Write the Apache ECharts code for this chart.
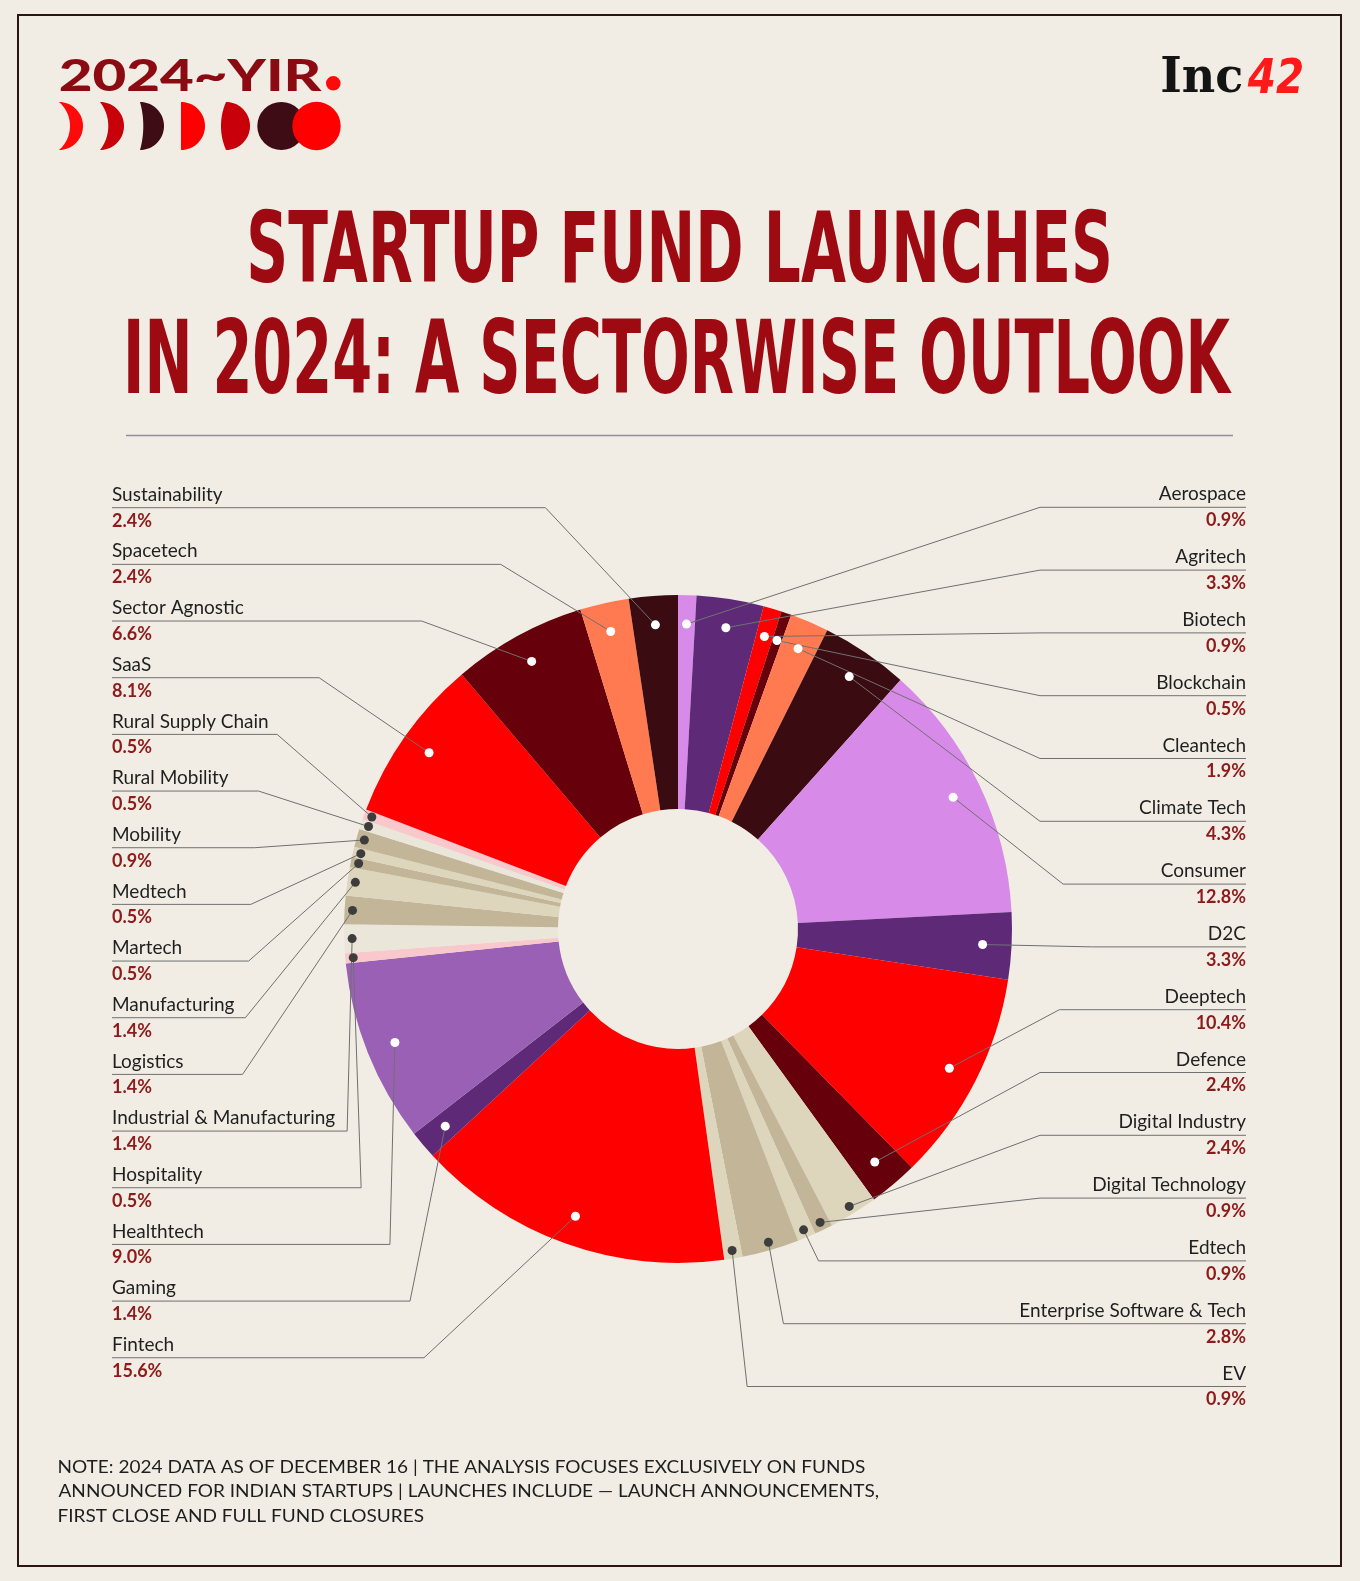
<!DOCTYPE html>
<html>
<head>
<meta charset="utf-8">
<script src="https://cdn.jsdelivr.net/npm/echarts/dist/echarts.min.js"></script>
<style>
html,body{margin:0;padding:0;background:#F1EDE4;}
#chart{width:1360px;height:1581px;}
</style>
</head>
<body>
<div id="chart"></div>
<script>
// ---------------- DATA ----------------
const categories = ['Aerospace','Agritech','Biotech','Blockchain','Cleantech','Climate Tech','Consumer','D2C','Deeptech','Defence','Digital Industry','Digital Technology','Edtech','Enterprise Software & Tech','EV','Fintech','Gaming','Healthtech','Hospitality','Industrial & Manufacturing','Logistics','Manufacturing','Martech','Medtech','Mobility','Rural Mobility','Rural Supply Chain','SaaS','Sector Agnostic','Spacetech','Sustainability'];
const shares = [0.9,3.3,0.9,0.5,1.9,4.3,12.8,3.3,10.4,2.4,2.4,0.9,0.9,2.8,0.9,15.6,1.4,9.0,0.5,1.4,1.4,1.4,0.5,0.5,0.9,0.5,0.5,8.1,6.6,2.4,2.4];
const titleLines = ['STARTUP FUND LAUNCHES','IN 2024: A SECTORWISE OUTLOOK'];
const noteLines = ['NOTE: 2024 DATA AS OF DECEMBER 16 | THE ANALYSIS FOCUSES EXCLUSIVELY ON FUNDS','ANNOUNCED FOR INDIAN STARTUPS | LAUNCHES INCLUDE \u2014 LAUNCH ANNOUNCEMENTS,','FIRST CLOSE AND FULL FUND CLOSURES'];

// ---------------- STYLE ----------------
const PAL = {
  violet:'#D78AE8', purple:'#5E2A78', red:'#FE0000', maroon:'#66000A', orange:'#FF7A50',
  darkest:'#3A0B10', mauve:'#9A60B5', pink:'#F8C8CC', beige:'#DDD6BC', tan:'#C2B598', offwhite:'#EBE6DA'
};
const sliceTones = ['violet','purple','red','maroon','orange','darkest','violet','purple','red','maroon','beige','tan','beige','tan','beige','red','purple','mauve','pink','offwhite','tan','beige','tan','beige','tan','offwhite','pink','red','maroon','orange','darkest'];
const LIGHT = {pink:1, beige:1, tan:1, offwhite:1};
const BG = '#F1EDE4';
const CX = 678, CY = 929, R_IN = 120, R_OUT = 334;
const LEFT_X = 112, RIGHT_X = 1246;
const LEFT_TOP = 507.7, LEFT_STEP = 56.67, RIGHT_TOP = 507.3, RIGHT_STEP = 62.8;
const NAME_FONT_FAMILY = 'Lato, "Noto Sans", sans-serif';
const LINE_COLOR = '#707070';

// ---------------- MEASURE HELPERS ----------------
const mctx = document.createElement('canvas').getContext('2d');
function measure(text, font, align) {
  mctx.font = font; mctx.textBaseline = 'middle'; mctx.textAlign = align || 'left';
  const m = mctx.measureText(text);
  return {w: m.actualBoundingBoxLeft + m.actualBoundingBoxRight, left: m.actualBoundingBoxLeft,
          right: m.actualBoundingBoxRight, asc: m.actualBoundingBoxAscent, desc: m.actualBoundingBoxDescent};
}
function fitText(text, o) {
  const align = o.align || 'left';
  const m = measure(text, o.font, align);
  const sx = o.inkW ? o.inkW / m.w : (o.sx || 1);
  const sy = o.capH ? o.capH / (m.asc + m.desc) : (o.sy || 1);
  let x;
  if (align === 'center') x = o.x - sx * (m.right - m.left) / 2;
  else x = o.x + sx * m.left;
  const y = o.capCY - sy * (m.desc - m.asc) / 2;
  return {
    type: 'text', x: x, y: y, scaleX: sx, scaleY: sy, originX: 0, originY: 0, silent: true, z: 10,
    style: {text: text, font: o.font, fill: o.fill, align: align, verticalAlign: 'middle',
            textAlign: align, textVerticalAlign: 'middle', stroke: o.stroke || null, lineWidth: o.lineWidth || 0}
  };
}
function moon(xT, R2, dir, fill) {
  const pts = [], cy = 126, r = 24, n = 40;
  for (let k = 0; k <= n; k++) { const a = -Math.PI / 2 + Math.PI * k / n; pts.push([xT + r * Math.cos(a), cy + r * Math.sin(a)]); }
  if (dir !== 0) {
    const phi = Math.asin(r / R2), c2 = xT - dir * Math.sqrt(R2 * R2 - r * r);
    for (let k = 0; k <= n; k++) {
      const b = dir > 0 ? phi - 2 * phi * k / n : Math.PI - phi + 2 * phi * k / n;
      pts.push([c2 + R2 * Math.cos(b), cy + R2 * Math.sin(b)]);
    }
  }
  return {type: 'polygon', silent: true, shape: {points: pts}, style: {fill: fill}};
}

const NAME_FS = Math.round(19 * 225 / measure('Industrial & Manufacturing', '19px ' + NAME_FONT_FAMILY).w * 2) / 2;
const NAME_FONT = NAME_FS + 'px ' + NAME_FONT_FAMILY;

// ---------------- GEOMETRY FROM DATA ----------------
const total = shares.reduce((a, b) => a + b, 0);
let acc = 0;
const mids = shares.map(v => { const m = acc + v / 2; acc += v; return m; });
const dotR = sliceTones.map(t => LIGHT[t] ? 326 : 305);
const dotColor = sliceTones.map(t => LIGHT[t] ? '#3d3d3d' : '#ffffff');
const dots = mids.map((m, i) => {
  const th = m / total * Math.PI * 2;
  return {x: CX + dotR[i] * Math.sin(th), y: CY - dotR[i] * Math.cos(th)};
});
const isRight = mids.map(m => m / total < 0.5);
const rightIdx = [], leftIdx = [];
categories.forEach((c, i) => { if (isRight[i]) rightIdx.push(i); else leftIdx.unshift(i); });
const nameW = categories.map(c => measure(c, NAME_FONT).w);

const lay = [];
(function () {
  let prevV = Infinity;
  rightIdx.forEach((i, k) => {
    const ly = RIGHT_TOP + k * RIGHT_STEP, d = dots[i];
    let bx, vert = false;
    if (d.y > CY + 200 && ly > d.y + 20) { bx = Math.min(d.x + 15, prevV - 14); vert = true; }
    else bx = Math.max(d.x + 110, 1040);
    bx = Math.min(bx, RIGHT_X - nameW[i] - 10);
    if (vert) prevV = bx;
    lay[i] = {x: RIGHT_X, y: ly, align: 'right', bend: [bx, ly], end: [RIGHT_X, ly]};
  });
  prevV = -Infinity;
  leftIdx.forEach((i, k) => {
    const ly = LEFT_TOP + k * LEFT_STEP, d = dots[i];
    let bx, vert = false;
    if (ly - d.y > 170 || d.y > CY + 180) { bx = Math.max(Math.min(d.x - 5, 410), prevV + 14); vert = true; }
    else bx = d.x - 110;
    bx = Math.max(bx, LEFT_X + nameW[i] + 10);
    if (vert) prevV = bx;
    lay[i] = {x: LEFT_X, y: ly, align: 'left', bend: [bx, ly], end: [LEFT_X, ly]};
  });
})();

// ---------------- GRAPHICS (header, title, notes) ----------------
const TITLE_FONT = 'bold 104px "Liberation Sans Narrow", "DejaVu Sans Condensed", Roboto, sans-serif';
const TITLE_COLOR = '#9E0A12';
const graphics = [
  {type: 'rect', silent: true, shape: {x: 18, y: 15, width: 1323, height: 1551},
   style: {fill: 'none', stroke: '#2c1515', lineWidth: 2}},
  {type: 'line', silent: true, shape: {x1: 126, y1: 435.5, x2: 1233, y2: 435.5},
   style: {stroke: '#9b8a9d', lineWidth: 1.5}},
  fitText('2024~YIR', {font: '900 44px Lato, sans-serif', fill: '#8C0A12', x: 60, capCY: 74.5, inkW: 262, capH: 32}),
  {type: 'circle', silent: true, shape: {cx: 333.3, cy: 83.3, r: 7.3}, style: {fill: '#FF0A0A'}},
  moon(59, 31.7, 1, '#FF0A0A'),
  moon(100, 38.9, 1, '#C8000A'),
  moon(140, 89, 1, '#3D0C14'),
  moon(181, 0, 0, '#FF0000'),
  moon(226, 60, -1, '#C8000A'),
  {type: 'circle', silent: true, shape: {cx: 281.3, cy: 126, r: 24}, style: {fill: '#3D0C14'}},
  {type: 'circle', silent: true, shape: {cx: 316.5, cy: 126, r: 24.2}, style: {fill: '#FF0000'}},
  fitText('Inc', {font: 'bold 50px "DejaVu Serif", serif', fill: '#141414', x: 1162, capCY: 74.7, inkW: 80, capH: 37}),
  fitText('42', {font: 'bold italic 50px "DejaVu Sans", sans-serif', fill: '#FF1A1A', x: 1247, capCY: 74.7, inkW: 55, capH: 36}),
  fitText(titleLines[0], {font: TITLE_FONT, fill: TITLE_COLOR, align: 'center', x: 679.5, capCY: 245, inkW: 859, capH: 75}),
  fitText(titleLines[1], {font: TITLE_FONT, fill: TITLE_COLOR, align: 'center', x: 680, capCY: 355, inkW: 1104, capH: 77})
];
(function () {
  const nf = '18px Lato, sans-serif';
  const sx = 806 / measure(noteLines[0], nf).w;
  const ys = [1467, 1491, 1515];
  noteLines.forEach((t, i) => graphics.push(fitText(t, {font: nf, fill: '#1e1e1e', x: 58.5, capCY: ys[i], sx: sx, sy: 1})));
})();

// ---------------- CHART ----------------
const markerData = mids.map((m, i) => [dotR[i], m, i]);
const chart = echarts.init(document.getElementById('chart'), null, {renderer: 'canvas', width: 1360, height: 1581});
chart.setOption({
  backgroundColor: BG,
  animation: false,
  polar: {center: [CX, CY], radius: R_OUT},
  angleAxis: {type: 'value', min: 0, max: total, startAngle: 90, clockwise: true, show: false},
  radiusAxis: {type: 'value', min: 0, max: R_OUT, show: false},
  graphic: {elements: graphics},
  series: [
    {
      type: 'pie',
      center: [CX, CY],
      radius: [R_IN, R_OUT],
      startAngle: 90,
      clockwise: true,
      avoidLabelOverlap: false,
      silent: true,
      z: 2,
      emphasis: {disabled: true},
      itemStyle: {borderWidth: 0},
      data: categories.map((c, i) => ({name: c, value: shares[i], itemStyle: {color: PAL[sliceTones[i]]}})),
      label: {
        show: true,
        position: 'outside',
        overflow: 'none',
        formatter: p => '{n|' + p.name + '}\n{p|' + shares[p.dataIndex].toFixed(1) + '%}',
        rich: {
          n: {fontFamily: NAME_FONT_FAMILY, fontSize: NAME_FS, color: '#1f1f1f', lineHeight: 26},
          p: {fontFamily: NAME_FONT_FAMILY, fontSize: 18, fontWeight: 'bold', color: '#8E1B1B', lineHeight: 26}
        }
      },
      labelLine: {show: false},
      labelLayout: p => {
        const L = lay[p.dataIndex];
        return {x: L.x, y: L.y, align: L.align, verticalAlign: 'middle'};
      }
    },
    {
      // leader lines: start at the marker position in the polar system, end under the label
      type: 'custom',
      coordinateSystem: 'polar',
      silent: true,
      clip: false,
      z: 5,
      data: markerData,
      renderItem: (params, api) => {
        const i = api.value(2);
        const p = api.coord([api.value(0), api.value(1)]);
        const L = lay[i];
        return {type: 'polyline', shape: {points: [p, L.bend, L.end]},
                style: {stroke: LINE_COLOR, lineWidth: 1, fill: null}};
      }
    },
    {
      type: 'custom',
      coordinateSystem: 'polar',
      silent: true,
      clip: false,
      z: 10,
      data: markerData,
      renderItem: (params, api) => {
        const i = api.value(2);
        const p = api.coord([api.value(0), api.value(1)]);
        return {type: 'circle', shape: {cx: p[0], cy: p[1], r: 4.5}, style: {fill: dotColor[i]}};
      }
    }
  ]
});
</script>
</body>
</html>
